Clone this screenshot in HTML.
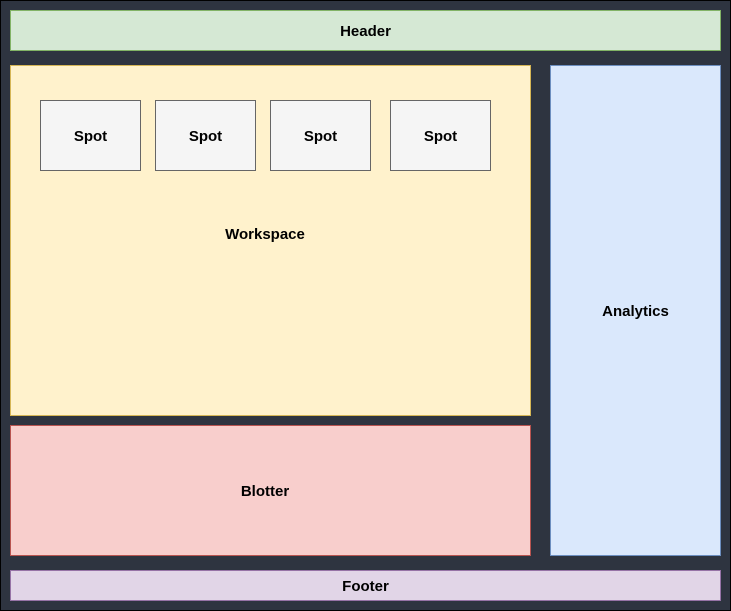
<!DOCTYPE html>
<html><head><meta charset="utf-8"><style>html,body{margin:0;padding:0;background:#2e3440}svg{display:block}</style></head>
<body>
<svg width="731" height="611" xmlns="http://www.w3.org/2000/svg" font-family="Liberation Sans, Arial, sans-serif" font-weight="bold" font-size="15" text-anchor="middle">
<rect x="0.5" y="0.5" width="730" height="610" fill="#2e3440" stroke="#000"/>
<rect x="10.5" y="10.5" width="710" height="40" fill="#d5e8d4" stroke="#82b366"/>
<text x="365.5" y="36">Header</text>
<rect x="10.5" y="65.5" width="520" height="350" fill="#fff2cc" stroke="#d6b656"/>
<text x="265" y="239">Workspace</text>
<g fill="#f5f5f5" stroke="#666">
<rect x="40.5" y="100.5" width="100" height="70"/>
<rect x="155.5" y="100.5" width="100" height="70"/>
<rect x="270.5" y="100.5" width="100" height="70"/>
<rect x="390.5" y="100.5" width="100" height="70"/>
</g>
<text x="90.5" y="141">Spot</text>
<text x="205.5" y="141">Spot</text>
<text x="320.5" y="141">Spot</text>
<text x="440.5" y="141">Spot</text>
<rect x="10.5" y="425.5" width="520" height="130" fill="#f8cecc" stroke="#b85450"/>
<text x="265" y="496">Blotter</text>
<rect x="550.5" y="65.5" width="170" height="490" fill="#dae8fc" stroke="#6c8ebf"/>
<text x="635.5" y="316">Analytics</text>
<rect x="10.5" y="570.5" width="710" height="30" fill="#e1d5e7" stroke="#9673a6"/>
<text x="365.5" y="591">Footer</text>
</svg>
</body></html>
